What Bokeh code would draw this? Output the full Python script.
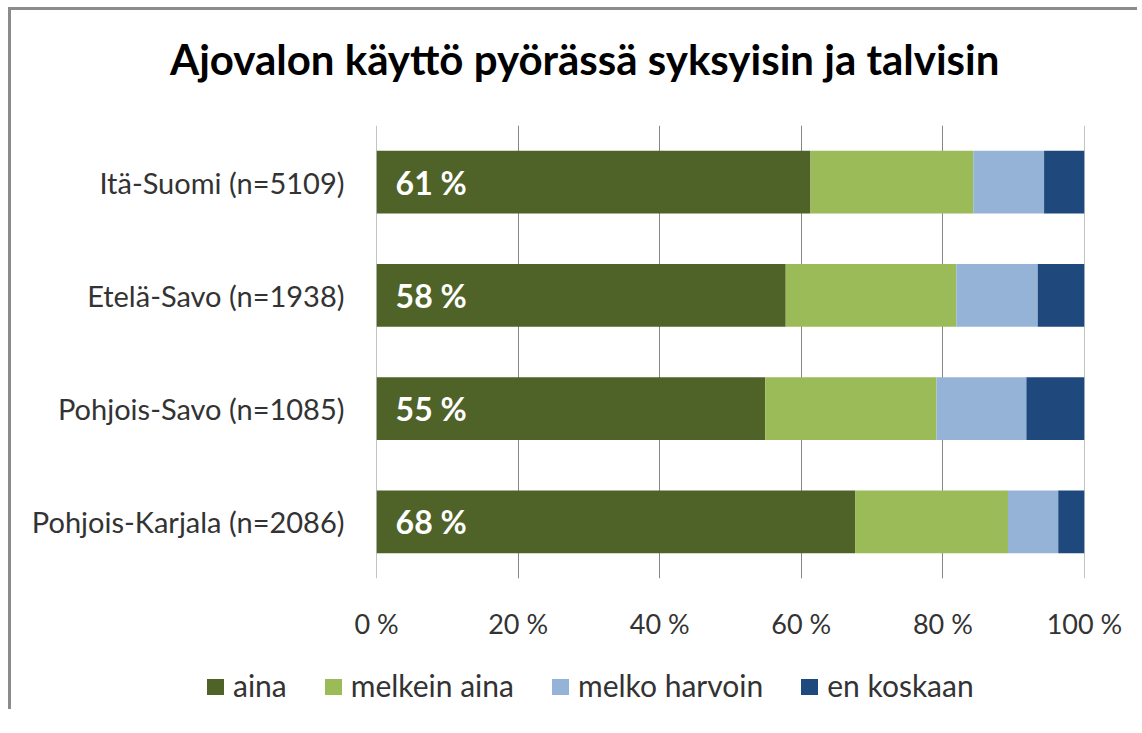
from bokeh.plotting import figure
from bokeh.layouts import column
from bokeh.models import ColumnDataSource, FactorRange, Range1d, FixedTicker, Div
from bokeh.embed import file_html
from bokeh.resources import INLINE
from bokeh.core.properties import value

title_text = "Ajovalon käyttö pyörässä syksyisin ja talvisin"
categories = ["Itä-Suomi (n=5109)", "Etelä-Savo (n=1938)",
              "Pohjois-Savo (n=1085)", "Pohjois-Karjala (n=2086)"]
series_names = ["aina", "melkein aina", "melko harvoin", "en koskaan"]
aina = [61.3, 57.8, 54.9, 67.6]
melkein_aina = [23.0, 24.1, 24.2, 21.6]
melko_harvoin = [10.0, 11.5, 12.7, 7.1]
en_koskaan = [5.7, 6.6, 8.2, 3.7]
colors = ["#4F6228", "#9BBB59", "#95B3D7", "#1F497D"]
x_ticks = [0, 20, 40, 60, 80, 100]
tick_labels = ["0 %", "20 %", "40 %", "60 %", "80 %", "100 %"]

FONT = "Lato"
TXT = "#333333"
W = 1126

keys = ["aina", "melkein_aina", "melko_harvoin", "en_koskaan"]
source = ColumnDataSource(dict(cat=categories, aina=aina, melkein_aina=melkein_aina,
                               melko_harvoin=melko_harvoin, en_koskaan=en_koskaan))

# ---- title ----
title_div = Div(
    text=(f'<div style="padding-left:159px;white-space:nowrap;'
          f'font-family:{FONT};font-weight:bold;font-size:42px;line-height:99px;'
          f'color:black;">{title_text}</div>'),
    width=W, height=106, margin=0)

# ---- chart ----
p = figure(width=W, height=528,
           y_range=FactorRange(factors=list(reversed(categories)), range_padding=0),
           x_range=Range1d(-0.01, 100.01),
           output_backend="svg", toolbar_location=None,
           min_border_left=365, min_border_right=53,
           min_border_top=9, min_border_bottom=66)
p.outline_line_color = None
p.background_fill_color = "white"
p.border_fill_color = "white"

renderers = p.hbar_stack(keys, y="cat", height=0.556, fill_color=colors,
                         line_color=None, source=source)

# bar labels for "aina"
lsrc = ColumnDataSource(dict(x=[0 for _ in aina], cat=categories,
                             lbl=[f"{round(v)} %" for v in aina]))
p.text(x="x", y="cat", text="lbl", source=lsrc, x_offset=19,
       text_align="left", text_baseline="middle", text_color="white",
       text_font=value(FONT), text_font_style="bold", text_font_size="32px")

p.xaxis.ticker = FixedTicker(ticks=x_ticks)
p.xaxis.major_label_overrides = dict(zip(x_ticks, tick_labels))
p.xaxis.axis_line_color = None
p.xaxis.major_tick_line_color = None
p.xaxis.major_tick_out = 0
p.xaxis.major_tick_in = 0
p.xaxis.minor_tick_line_color = None
p.xaxis.major_label_text_font = FONT
p.xaxis.major_label_text_font_size = "27px"
p.xaxis.major_label_text_color = TXT
p.xaxis.major_label_standoff = 28

p.yaxis.axis_line_color = None
p.yaxis.major_tick_line_color = None
p.yaxis.major_tick_out = 0
p.yaxis.major_tick_in = 0
p.yaxis.minor_tick_line_color = None
p.yaxis.major_label_text_font = FONT
p.yaxis.major_label_text_font_size = "29px"
p.yaxis.major_label_text_color = TXT
p.yaxis.major_label_standoff = 32

p.xgrid.ticker = FixedTicker(ticks=x_ticks)
p.xgrid.grid_line_color = "#878787"
p.ygrid.grid_line_color = None

# ---- legend ----
items_html = "".join(
    f'<span style="display:inline-block;white-space:nowrap;'
    f'margin-right:{38 if i < len(series_names) - 1 else 0}px;">'
    f'<span style="display:inline-block;width:17px;height:16px;background:{c};'
    f'margin-right:9px;vertical-align:2px;"></span>{n}</span>'
    for i, (n, c) in enumerate(zip(series_names, colors)))
legend_div = Div(
    text=(f'<div style="padding-left:196px;padding-top:21px;white-space:nowrap;'
          f'font-family:{FONT};font-size:30px;line-height:40px;color:{TXT};">'
          f'{items_html}</div>'),
    width=W, height=65, margin=0)

layout = column(title_div, p, legend_div, spacing=0,
                styles={"border-left": "3px solid #8b8b8b", "border-top": "3px solid #8b8b8b",
                        "margin-left": "8px", "margin-top": "7px"})

open("out.html", "w").write(file_html(layout, INLINE))
